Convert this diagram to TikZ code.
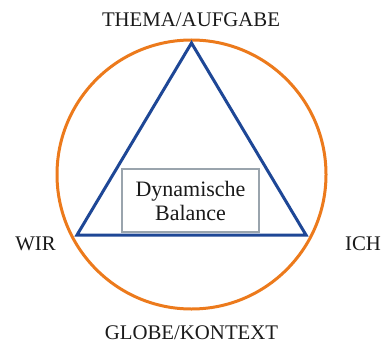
\documentclass[tikz,border=0pt]{standalone}
\usepackage{fontspec}
\setmainfont{Liberation Serif}
\definecolor{ringorange}{HTML}{EC7A1C}
\definecolor{triblue}{HTML}{1E4796}
\definecolor{boxgray}{HTML}{9AA4AD}
\definecolor{txt}{HTML}{1A1A1A}
\begin{document}
\begin{tikzpicture}[x=1pt,y=-1pt,
  lbl/.style={font=\fontsize{20.8}{24}\selectfont, text=txt, inner sep=0pt, anchor=base},
  boxtxt/.style={font=\fontsize{22}{24}\selectfont, text=txt, inner sep=0pt, anchor=base}]
\useasboundingbox (0,0) rectangle (382,345);
\coordinate (c) at (191.5,174.5);
\draw[ringorange, line width=3pt] (c) circle[radius=134.5];
\coordinate (top) at (191.5,43);
\coordinate (bl) at (77,235);
\coordinate (br) at (306,235);
\draw[triblue, line width=3pt, line join=miter] (top) -- (bl) -- (br) -- cycle;
\node[draw=boxgray, line width=1.5pt, fill=white, minimum width=137, minimum height=63, inner sep=0pt] (box) at (190.5,200.5) {};
\node[boxtxt] (t1) at (190.5,196.5) {Dynamische};
\node[boxtxt] (t2) at (190.5,220.5) {Balance};
\node[lbl] (thema) at (191,27) {THEMA/AUFGABE};
\node[lbl] (wir) at (35.5,250) {WIR};
\node[lbl] (ich) at (363,250) {ICH};
\node[lbl] (globe) at (191.5,339.5) {GLOBE/KONTEXT};
\end{tikzpicture}
\end{document}
